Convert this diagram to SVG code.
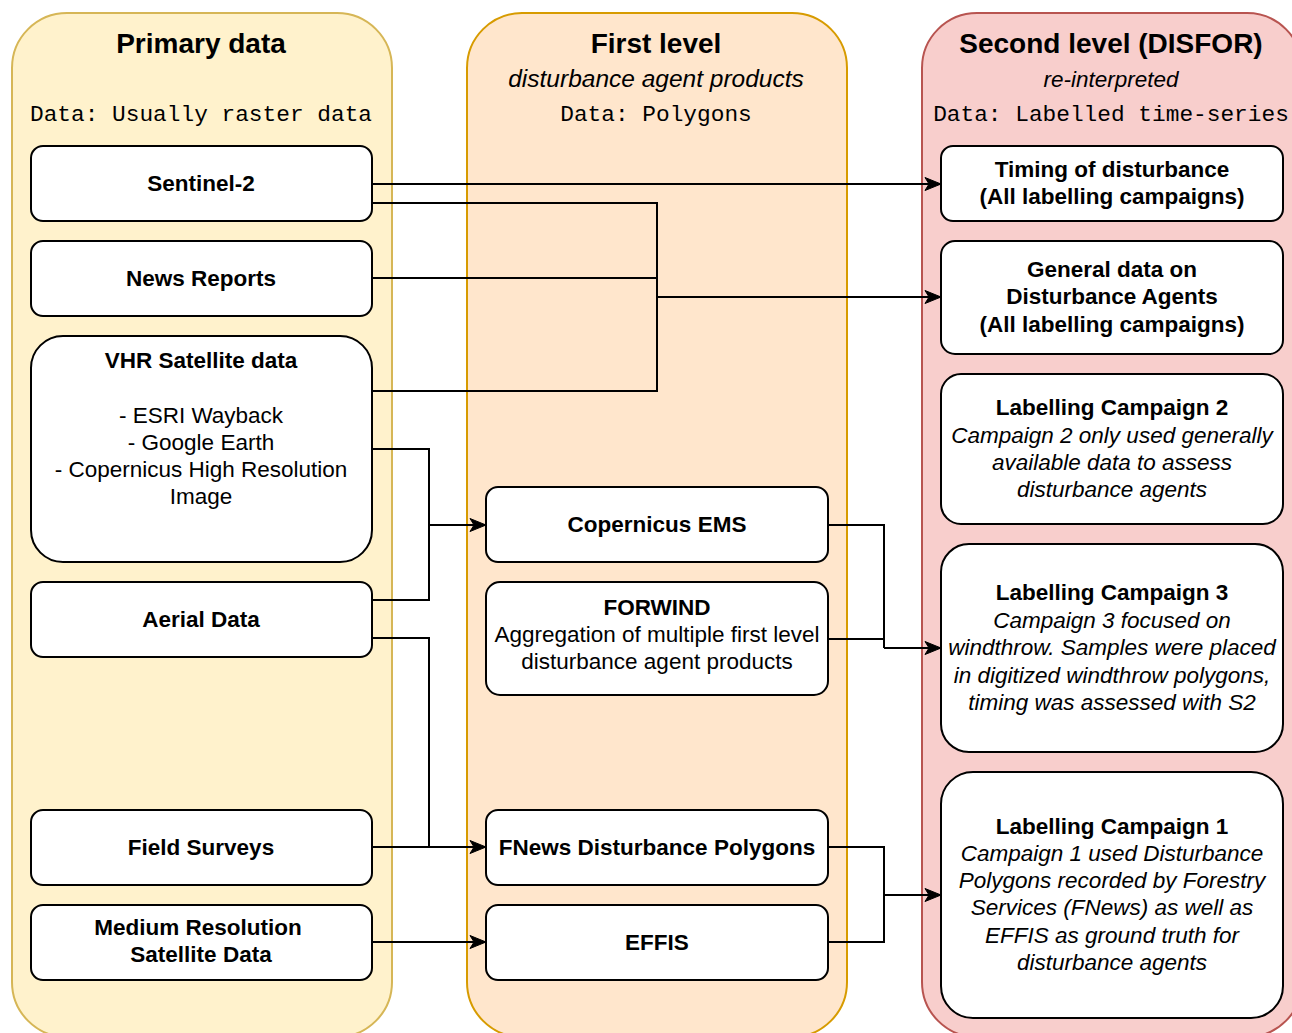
<svg xmlns="http://www.w3.org/2000/svg" width="1292" height="1033" viewBox="0 0 1292 1033">
<style>
.box{fill:#ffffff;stroke:#000000;stroke-width:2}
.t{font-family:"Liberation Sans",Arial,sans-serif;font-size:22.5px;fill:#000;text-anchor:middle}
.b{font-weight:bold}
.i{font-style:italic}
.h{font-family:"Liberation Sans",Arial,sans-serif;font-size:28px;font-weight:bold;fill:#000;text-anchor:middle}
.m{font-family:"Liberation Mono","DejaVu Sans Mono",monospace;font-size:22.8px;fill:#000;text-anchor:middle}
.c{fill:none;stroke:#000;stroke-width:2}
</style>
<defs>
<marker id="arr" markerWidth="18" markerHeight="16" refX="17" refY="8" orient="auto" markerUnits="userSpaceOnUse">
<path d="M1,1.5 L17,8 L1,14.5 L5,8 z" fill="#000" stroke="#000" stroke-width="1"/>
</marker>
</defs>
<rect width="1292" height="1033" fill="#ffffff"/>
<g id="panel-primary">
<rect x="12" y="13" width="380" height="1024" rx="55" fill="#fff2cc" stroke="#d6b656" stroke-width="2"/>
<text class="h" x="201" y="53">Primary data</text>
<text class="m" x="201" y="121">Data: Usually raster data</text>
</g>
<g id="panel-first">
<rect x="467" y="13" width="380" height="1024" rx="55" fill="#ffe6cc" stroke="#d79b00" stroke-width="2"/>
<text class="h" x="656" y="53">First level</text>
<text class="t i" x="656" y="87" style="font-size:24.5px">disturbance agent products</text>
<text class="m" x="656" y="121">Data: Polygons</text>
</g>
<g id="panel-second">
<rect x="922" y="13" width="380" height="1024" rx="55" fill="#f8cecc" stroke="#b85450" stroke-width="2"/>
<text class="h" x="1111" y="53">Second level (DISFOR)</text>
<text class="t i" x="1111" y="87">re-interpreted</text>
<text class="m" x="1111" y="121">Data: Labelled time-series</text>
</g>
<g id="connectors">
<path class="c" d="M372,184 H941" marker-end="url(#arr)"/>
<path class="c" d="M372,203 H657 V391 H372"/>
<path class="c" d="M372,278 H657"/>
<path class="c" d="M657,297 H941" marker-end="url(#arr)"/>
<path class="c" d="M372,449 H429 V600 H372"/>
<path class="c" d="M429,525 H486" marker-end="url(#arr)"/>
<path class="c" d="M372,638 H429 V847"/>
<path class="c" d="M372,847 H486" marker-end="url(#arr)"/>
<path class="c" d="M372,942 H486" marker-end="url(#arr)"/>
<path class="c" d="M828,525 H884 V648"/>
<path class="c" d="M828,639 H884"/>
<path class="c" d="M884,648 H941" marker-end="url(#arr)"/>
<path class="c" d="M828,847 H884 V942 H828"/>
<path class="c" d="M884,895 H941" marker-end="url(#arr)"/>
</g>
<g id="sentinel2">
<rect class="box" x="31" y="146" width="341" height="75" rx="12"/>
<text class="t b" x="201" y="191">Sentinel-2</text>
</g>
<g id="news-reports">
<rect class="box" x="31" y="241" width="341" height="75" rx="12"/>
<text class="t b" x="201" y="286">News Reports</text>
</g>
<g id="vhr">
<rect class="box" x="31" y="336" width="341" height="226" rx="32"/>
<text class="t b" x="201" y="368">VHR Satellite data</text>
<text class="t" x="201" y="423">- ESRI Wayback</text>
<text class="t" x="201" y="450">- Google Earth</text>
<text class="t" x="201" y="477">- Copernicus High Resolution</text>
<text class="t" x="201" y="504">Image</text>
</g>
<g id="aerial">
<rect class="box" x="31" y="582" width="341" height="75" rx="12"/>
<text class="t b" x="201" y="627">Aerial Data</text>
</g>
<g id="field-surveys">
<rect class="box" x="31" y="810" width="341" height="75" rx="12"/>
<text class="t b" x="201" y="855">Field Surveys</text>
</g>
<g id="medium-res">
<rect class="box" x="31" y="905" width="341" height="75" rx="12"/>
<text class="t b" x="198" y="935">Medium Resolution</text>
<text class="t b" x="201" y="962">Satellite Data</text>
</g>
<g id="copernicus-ems">
<rect class="box" x="486" y="487" width="342" height="75" rx="12"/>
<text class="t b" x="657" y="532">Copernicus EMS</text>
</g>
<g id="forwind">
<rect class="box" x="486" y="582" width="342" height="113" rx="14"/>
<text class="t b" x="657" y="615">FORWIND</text>
<text class="t" x="657" y="642">Aggregation of multiple first level</text>
<text class="t" x="657" y="669">disturbance agent products</text>
</g>
<g id="fnews">
<rect class="box" x="486" y="810" width="342" height="75" rx="12"/>
<text class="t b" x="657" y="855">FNews Disturbance Polygons</text>
</g>
<g id="effis">
<rect class="box" x="486" y="905" width="342" height="75" rx="12"/>
<text class="t b" x="657" y="950">EFFIS</text>
</g>
<g id="timing">
<rect class="box" x="941" y="146" width="342" height="75" rx="12"/>
<text class="t b" x="1112" y="177">Timing of disturbance</text>
<text class="t b" x="1112" y="204">(All labelling campaigns)</text>
</g>
<g id="general-data">
<rect class="box" x="941" y="241" width="342" height="113" rx="14"/>
<text class="t b" x="1112" y="277">General data on</text>
<text class="t b" x="1112" y="304">Disturbance Agents</text>
<text class="t b" x="1112" y="332">(All labelling campaigns)</text>
</g>
<g id="campaign2">
<rect class="box" x="941" y="374" width="342" height="150" rx="20"/>
<text class="t b" x="1112" y="415">Labelling Campaign 2</text>
<text class="t i" x="1112" y="443">Campaign 2 only used generally</text>
<text class="t i" x="1112" y="470">available data to assess</text>
<text class="t i" x="1112" y="497">disturbance agents</text>
</g>
<g id="campaign3">
<rect class="box" x="941" y="544" width="342" height="208" rx="28"/>
<text class="t b" x="1112" y="600">Labelling Campaign 3</text>
<text class="t i" x="1112" y="628">Campaign 3 focused on</text>
<text class="t i" x="1112" y="655">windthrow. Samples were placed</text>
<text class="t i" x="1112" y="683">in digitized windthrow polygons,</text>
<text class="t i" x="1112" y="710">timing was assessed with S2</text>
</g>
<g id="campaign1">
<rect class="box" x="941" y="772" width="342" height="246" rx="32"/>
<text class="t b" x="1112" y="834">Labelling Campaign 1</text>
<text class="t i" x="1112" y="861">Campaign 1 used Disturbance</text>
<text class="t i" x="1112" y="888">Polygons recorded by Forestry</text>
<text class="t i" x="1112" y="915">Services (FNews) as well as</text>
<text class="t i" x="1112" y="943">EFFIS as ground truth for</text>
<text class="t i" x="1112" y="970">disturbance agents</text>
</g>
</svg>
